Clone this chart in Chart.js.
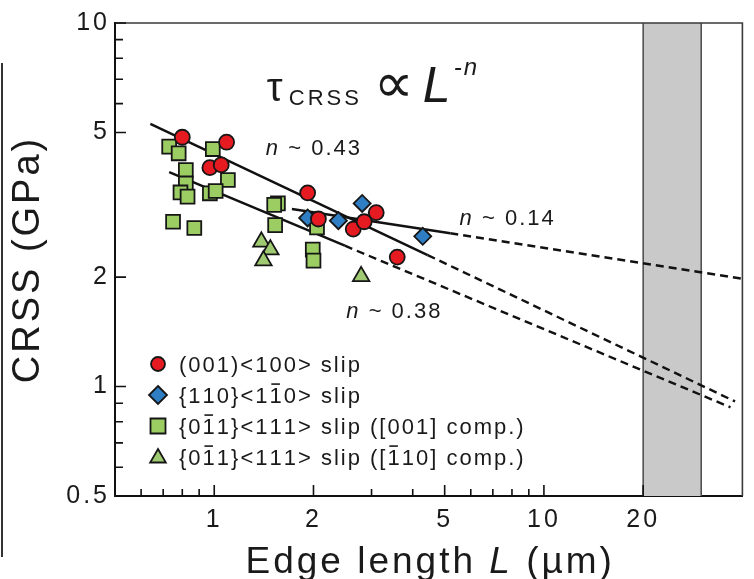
<!DOCTYPE html>
<html>
<head>
<meta charset="utf-8">
<script src="https://cdn.jsdelivr.net/npm/chart.js@4.4.1/dist/chart.umd.min.js"></script>
<style>
  html, body { margin: 0; padding: 0; background: #fff; }
  #wrap { width: 754px; height: 579px; }
</style>
</head>
<body>
<div id="wrap"><canvas id="crssChart" width="754" height="579"></canvas></div>
<script>
// edge length L (um) and CRSS (GPa)
const redL  = [0.80, 1.09, 0.97, 1.05, 1.92, 2.07, 2.64, 2.85, 3.10, 3.59];
const redT  = [4.85, 4.70, 4.00, 4.07, 3.41, 2.89, 2.71, 2.84, 3.01, 2.27];
const blueL = [1.92, 2.38, 2.81, 4.29];
const blueT = [2.91, 2.86, 3.19, 2.59];
const sqL = [0.73, 0.78, 0.99, 0.82, 0.82, 0.79, 0.83, 1.10, 0.97, 1.01, 0.75, 0.87, 1.56, 1.52, 1.53, 2.05, 1.99, 2.00];
const sqT = [4.57, 4.38, 4.50, 3.94, 3.62, 3.42, 3.33, 3.70, 3.40, 3.45, 2.84, 2.73, 3.19, 3.16, 2.78, 2.74, 2.38, 2.22];
const triL = [1.39, 1.48, 1.41, 2.79];
const triT = [2.50, 2.38, 2.22, 2.01];

// power-law fits: solid over the data, dashed extrapolation
const fit043L = [0.64, 4.44], fit043T = [5.28, 2.30];
const ext043L = [4.44, 38],   ext043T = [2.30, 0.91];
const fit038L = [0.73, 2.49], fit038T = [3.89, 2.44];
const ext038L = [2.49, 36.8], ext038T = [2.44, 0.877];
const fit014L = [1.72, 5.2],  fit014T = [3.08, 2.64];
const ext014L = [5.2, 40],    ext014T = [2.64, 1.98];

const xLabels = [1, 2, 5, 10, 20];
const xMinor = [0.6, 0.7, 0.8, 0.9, 3, 4, 6, 7, 8, 9];
const yLabels = [0.5, 1, 2, 5, 10];
const yMinor = [0.6, 0.7, 0.8, 0.9, 6, 7, 8, 9];
const band = [20, 30];

// '^' marks an overlined digit
const legendLabels = ['(001)<100> slip', '{110}<1^10> slip', '{0^11}<111> slip ([001] comp.)', '{0^11}<111> slip ([^110] comp.)'];
const fitNotes = [['0.43', 1.434, 4.335], ['0.14', 5.55, 2.78], ['0.38', 2.515, 1.544]];

const F = '"Liberation Sans", Arial, sans-serif';
const RED = '#e61b22', BLUE = '#2f7dc3', GREEN = '#9ccd63', TRI = '#9fca72', EDGE = '#161616';

const pts = (xs, ys) => xs.map((v, i) => ({x: v, y: ys[i]}));

function lineSet(xs, ys, dashed) {
    return {
        data: pts(xs, ys), showLine: true, pointRadius: 0, borderColor: '#111',
        borderWidth: 2.4, borderDash: dashed ? [8, 5] : [], fill: false
    };
}

function drawRuns(ctx, runs, x, y, sp) {
    let cx = x;
    ctx.letterSpacing = '0px';
    for (const r of runs) {
        ctx.font = r.font;
        let over = false;
        for (const ch of r.text) {
            if (ch === '^') { over = true; continue; }
            const w = ctx.measureText(ch).width;
            ctx.fillText(ch, cx, y + (r.dy || 0));
            if (over) {
                ctx.beginPath();
                ctx.lineWidth = 1.6;
                ctx.moveTo(cx + w * 0.15, y - r.size * 0.86);
                ctx.lineTo(cx + w * 0.85, y - r.size * 0.86);
                ctx.stroke();
            }
            over = false;
            cx += w + sp;
        }
    }
    return cx;
}

function marker(ctx, kind, x, y, r, fill) {
    ctx.beginPath();
    if (kind === 'circle') ctx.arc(x, y, r, 0, Math.PI * 2);
    if (kind === 'diamond') { ctx.moveTo(x, y - r); ctx.lineTo(x + r, y); ctx.lineTo(x, y + r); ctx.lineTo(x - r, y); ctx.closePath(); }
    if (kind === 'square') ctx.rect(x - r, y - r, 2 * r, 2 * r);
    if (kind === 'triangle') { ctx.moveTo(x, y - r); ctx.lineTo(x + r * 0.87, y + r * 0.5); ctx.lineTo(x - r * 0.87, y + r * 0.5); ctx.closePath(); }
    ctx.fillStyle = fill;
    ctx.fill();
    ctx.lineWidth = 1.8;
    ctx.strokeStyle = EDGE;
    ctx.stroke();
}

const decor = {
    id: 'decor',
    beforeDraw(chart) {
        chart.ctx.letterSpacing = '3px';
    },
    beforeDatasetsDraw(chart) {
        const {ctx, chartArea: a, scales: {x}} = chart;
        const x0 = x.getPixelForValue(band[0]), x1 = x.getPixelForValue(band[1]);
        ctx.save();
        ctx.fillStyle = '#c9c9c9';
        ctx.fillRect(x0, a.top, x1 - x0, a.bottom - a.top);
        ctx.strokeStyle = '#4a4a4a';
        ctx.lineWidth = 1.5;
        ctx.beginPath();
        ctx.moveTo(x0, a.top); ctx.lineTo(x0, a.bottom);
        ctx.moveTo(x1, a.top); ctx.lineTo(x1, a.bottom);
        ctx.stroke();
        ctx.restore();
    },
    afterDraw(chart) {
        const {ctx, chartArea: a, scales: {x, y}} = chart;
        ctx.save();
        ctx.strokeStyle = '#111';
        ctx.fillStyle = '#1a1a1a';

        // frame top and right
        ctx.lineWidth = 1.6;
        ctx.beginPath();
        ctx.moveTo(a.left, a.top); ctx.lineTo(a.right, a.top); ctx.lineTo(a.right, a.bottom);
        ctx.strokeStyle = '#3a3a3a';
        ctx.stroke();

        // inward tick marks
        ctx.strokeStyle = '#111';
        ctx.lineWidth = 1.6;
        ctx.beginPath();
        xLabels.forEach(v => { const p = x.getPixelForValue(v); ctx.moveTo(p, a.bottom); ctx.lineTo(p, a.bottom - 11); });
        xMinor.forEach(v => { const p = x.getPixelForValue(v); ctx.moveTo(p, a.bottom); ctx.lineTo(p, a.bottom - 7); });
        yLabels.forEach(v => { const p = y.getPixelForValue(v); ctx.moveTo(a.left, p); ctx.lineTo(a.left + 11, p); });
        yMinor.forEach(v => { const p = y.getPixelForValue(v); ctx.moveTo(a.left, p); ctx.lineTo(a.left + 8, p); });
        ctx.stroke();

        // edge of the neighbouring panel at far left
        ctx.strokeStyle = '#333';
        ctx.lineWidth = 2;
        ctx.beginPath();
        ctx.moveTo(2, 63); ctx.lineTo(2, 557);
        ctx.stroke();

        ctx.textAlign = 'left';
        ctx.textBaseline = 'alphabetic';

        // x axis title
        const xt = [
            {text: 'Edge length ', font: '37px ' + F, size: 37},
            {text: 'L', font: 'italic 37px ' + F, size: 37},
            {text: ' (\u00b5m)', font: '37px ' + F, size: 37}
        ];
        let w = 0;
        ctx.letterSpacing = '0px';
        xt.forEach(r => { ctx.font = r.font; for (const ch of r.text) w += ctx.measureText(ch).width + 3; });
        drawRuns(ctx, xt, (a.left + a.right) / 2 - (w - 3) / 2, 573, 3);

        // formula
        const fx = x.getPixelForValue(1.444), fy = y.getPixelForValue(6.10);
        drawRuns(ctx, [{text: '\u03c4', font: '40px ' + F, size: 40}], fx, fy, 0);
        drawRuns(ctx, [{text: 'CRSS', font: '22px ' + F, size: 22}], fx + 22, fy + 4, 3);
        drawRuns(ctx, [{text: '\u221d', font: '56px "DejaVu Sans"', size: 56}], fx + 107, fy + 1, 0);
        drawRuns(ctx, [{text: 'L', font: 'italic 50px ' + F, size: 50}], fx + 156, fy + 1, 0);
        drawRuns(ctx, [{text: '-n', font: 'italic 24px ' + F, size: 24}], fx + 187, fy - 26, 2);

        // fit exponents
        fitNotes.forEach(([n, lx, ly]) => {
            drawRuns(ctx, [
                {text: 'n', font: 'italic 22px ' + F, size: 22},
                {text: ' ~ ' + n, font: '22px ' + F, size: 22}
            ], x.getPixelForValue(lx), y.getPixelForValue(ly), 2);
        });

        // legend
        const kinds = [['circle', 7, RED], ['diamond', 9, BLUE], ['square', 7.5, GREEN], ['triangle', 9, TRI]];
        legendLabels.forEach((lab, i) => {
            const by = a.bottom - 124 + i * 31;
            const [k, r, c] = kinds[i];
            marker(ctx, k, a.left + 43, by - 8 + (k === 'triangle' ? 1 : 0), r, c);
            ctx.fillStyle = '#1a1a1a';
            ctx.strokeStyle = '#1a1a1a';
            drawRuns(ctx, [{text: lab, font: '22px ' + F, size: 22}], a.left + 64, by, 2);
        });
        ctx.restore();
    }
};

new Chart(document.getElementById('crssChart').getContext('2d'), {
    type: 'scatter',
    data: {
        datasets: [
            {data: pts(redL, redT), pointStyle: 'circle', pointRadius: 7.5, backgroundColor: RED, borderColor: EDGE, borderWidth: 1.8},
            {data: pts(blueL, blueT), pointStyle: 'rectRot', pointRadius: 8.5, backgroundColor: BLUE, borderColor: EDGE, borderWidth: 1.8},
            {data: pts(triL, triT), pointStyle: 'triangle', pointRadius: 9.5, backgroundColor: TRI, borderColor: EDGE, borderWidth: 1.8},
            {data: pts(sqL, sqT), pointStyle: 'rect', pointRadius: 9.8, backgroundColor: GREEN, borderColor: EDGE, borderWidth: 1.8},
            lineSet(fit043L, fit043T, false),
            lineSet(ext043L, ext043T, true),
            lineSet(fit038L, fit038T, false),
            lineSet(ext038L, ext038T, true),
            lineSet(fit014L, fit014T, false),
            lineSet(ext014L, ext014T, true)
        ]
    },
    options: {
        responsive: false,
        animation: false,
        layout: {padding: {left: 0, top: 23, right: 9, bottom: 0}},
        plugins: {
            legend: {display: false},
            tooltip: {enabled: false}
        },
        scales: {
            x: {
                type: 'logarithmic',
                min: 0.5,
                max: 40,
                afterBuildTicks: ax => { ax.ticks = xLabels.map(v => ({value: v})); },
                afterFit: ax => { ax.height = 83; },
                grid: {display: false, drawTicks: false},
                border: {display: true, color: '#111', width: 2},
                ticks: {autoSkip: false, maxRotation: 0, padding: 9, color: '#1a1a1a', font: {family: F, size: 25}, callback: v => String(v)}
            },
            y: {
                type: 'logarithmic',
                min: 0.5,
                max: 10,
                afterBuildTicks: ax => { ax.ticks = yLabels.map(v => ({value: v})); },
                afterFit: ax => { ax.width = 115; },
                grid: {display: false, drawTicks: false},
                border: {display: true, color: '#111', width: 2},
                ticks: {autoSkip: false, padding: 5, color: '#1a1a1a', font: {family: F, size: 25}, callback: v => String(v)},
                title: {display: true, text: 'CRSS (GPa)', color: '#1a1a1a', font: {family: F, size: 38, lineHeight: 1}, padding: {top: 10, bottom: 0}}
            }
        }
    },
    plugins: [decor]
});
</script>
</body>
</html>
